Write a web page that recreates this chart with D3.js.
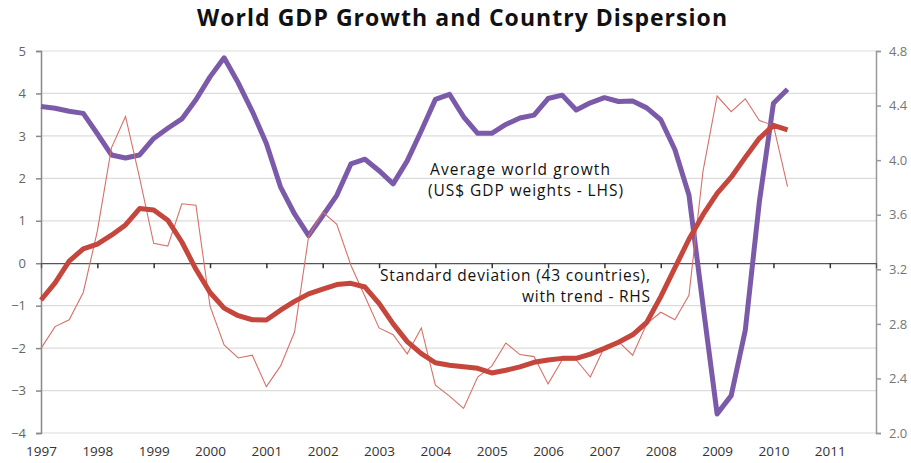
<!DOCTYPE html>
<html>
<head>
<meta charset="utf-8">
<script src="https://cdn.jsdelivr.net/npm/d3@7"></script>
<style>
  html, body { margin: 0; padding: 0; background: #fff; }
  text { font-family: "Open Sans", "DejaVu Sans", sans-serif; }
</style>
</head>
<body>
<div id="chart-wrap"></div>
<script>
const width = 911;
const height = 463;
const margin = {top: 51, bottom: 30, left: 41, right: 35};

// quarterly from 1997 Q1
const startYear = 1997;
const years = [1997, 1998, 1999, 2000, 2001, 2002, 2003, 2004, 2005, 2006, 2007, 2008, 2009, 2010, 2011];
const leftTicks = [-4, -3, -2, -1, 0, 1, 2, 3, 4, 5];
const rightTicks = [2.0, 2.4, 2.8, 3.2, 3.6, 4.0, 4.4, 4.8];

// Average world growth, US$ GDP weights (LHS)
const worldGrowth = [3.69, 3.65, 3.58, 3.53, 3.05, 2.55, 2.48, 2.55, 2.94, 3.18,
  3.40, 3.85, 4.39, 4.84, 4.25, 3.58, 2.82, 1.80, 1.16, 0.65,
  1.12, 1.60, 2.34, 2.45, 2.18, 1.87, 2.41, 3.12, 3.86, 3.98,
  3.45, 3.06, 3.06, 3.27, 3.42, 3.49, 3.88, 3.96, 3.61, 3.78,
  3.90, 3.81, 3.82, 3.66, 3.38, 2.68, 1.61, -1.00, -3.55, -3.12,
  -1.58, 1.45, 3.77, 4.10];

// Standard deviation across 43 countries (RHS)
const dispersion = [2.62, 2.78, 2.83, 3.03, 3.48, 4.09, 4.32, 3.87, 3.39, 3.37,
  3.68, 3.67, 2.93, 2.645, 2.55, 2.57, 2.34, 2.49, 2.74, 3.44,
  3.62, 3.53, 3.23, 3.00, 2.77, 2.72, 2.58, 2.77, 2.35, 2.27,
  2.18, 2.41, 2.49, 2.66, 2.575, 2.56, 2.36, 2.535, 2.535, 2.41,
  2.63, 2.67, 2.57, 2.80, 2.885, 2.83, 3.01, 3.92, 4.47, 4.355,
  4.45, 4.29, 4.255, 3.805];

// trend of the standard deviation (RHS)
const dispersionTrend = [2.975, 3.10, 3.26, 3.35, 3.385, 3.45, 3.525, 3.645, 3.635, 3.56,
  3.40, 3.20, 3.03, 2.915, 2.86, 2.83, 2.828, 2.90, 2.965, 3.02,
  3.055, 3.088, 3.097, 3.07, 2.95, 2.80, 2.67, 2.582, 2.515, 2.497,
  2.486, 2.474, 2.44, 2.46, 2.485, 2.518, 2.535, 2.547, 2.547, 2.578,
  2.62, 2.665, 2.72, 2.81, 3.00, 3.21, 3.42, 3.60, 3.757, 3.875,
  4.02, 4.16, 4.255, 4.221];

const svg = d3.select("#chart-wrap")
  .append("svg")
  .attr("width", width)
  .attr("height", height);

const x = d3.scaleLinear()
  .domain([1997, 2011.82])
  .range([margin.left, width - margin.right]);

const yL = d3.scaleLinear()
  .domain([-4, 5])
  .range([height - margin.bottom, margin.top]);

const yR = d3.scaleLinear()
  .domain([2.0, 4.8])
  .range([height - margin.bottom, margin.top]);

const t = i => startYear + i / 4;

// title
svg.append("text")
  .attr("x", 462)
  .attr("y", 26)
  .attr("text-anchor", "middle")
  .attr("font-size", 23)
  .attr("font-weight", "bold")
  .attr("fill", "#111")
  .attr("textLength", 530)
  .attr("lengthAdjust", "spacing")
  .text("World GDP Growth and Country Dispersion");

// gridlines
svg.append("g")
  .selectAll("line")
  .data(leftTicks.filter(d => d !== 0))
  .join("line")
  .attr("x1", margin.left)
  .attr("x2", width - margin.right)
  .attr("y1", d => yL(d))
  .attr("y2", d => yL(d))
  .attr("stroke", "#dcdcdc")
  .attr("stroke-width", 1.2);

// left axis
const leftAxis = svg.append("g")
  .attr("transform", "translate(" + margin.left + ",0)")
  .call(d3.axisLeft(yL).tickValues(leftTicks).tickSize(5).tickPadding(10).tickFormat(d3.format("d")));
leftAxis.select(".domain").attr("stroke", "#888").attr("stroke-width", 1.5);
leftAxis.selectAll(".tick line").attr("stroke", "#888").attr("stroke-width", 1.5);
leftAxis.selectAll("text")
  .attr("font-size", 13)
  .attr("fill", "#666")
  .style("font-family", "'Open Sans', sans-serif");

// right axis
const rightAxis = svg.append("g")
  .attr("transform", "translate(" + (width - margin.right) + ",0)")
  .call(d3.axisRight(yR).tickValues(rightTicks).tickSize(5).tickPadding(8).tickFormat(d3.format(".1f")));
rightAxis.select(".domain").attr("stroke", "#999").attr("stroke-width", 1.5);
rightAxis.selectAll(".tick line").attr("stroke", "#999").attr("stroke-width", 1.5);
rightAxis.selectAll("text")
  .attr("font-size", 13)
  .attr("fill", "#777")
  .style("font-family", "'Open Sans', sans-serif");

// x axis sits on the zero line, labels below the plot
const xAxis = svg.append("g")
  .attr("transform", "translate(0," + yL(0) + ")")
  .call(d3.axisBottom(x).tickValues(years).tickSize(5).tickFormat(d3.format("d")));
xAxis.select(".domain").attr("stroke", "#555").attr("stroke-width", 1.3);
xAxis.selectAll(".tick line").attr("stroke", "#333").attr("stroke-width", 1.5)
  .attr("display", d => d === 1997 ? "none" : null);
xAxis.selectAll("text")
  .attr("font-size", 13.5)
  .attr("fill", "#333")
  .attr("y", yL(-4) - yL(0) + 13)
  .style("font-family", "'Open Sans', sans-serif");

// lines
const lineL = d3.line()
  .x((d, i) => x(t(i)))
  .y(d => yL(d));

const lineR = d3.line()
  .x((d, i) => x(t(i)))
  .y(d => yR(d));

svg.append("path")
  .datum(worldGrowth)
  .attr("fill", "none")
  .attr("stroke", "#7b5ba9")
  .attr("stroke-width", 5)
  .attr("stroke-linejoin", "round")
  .attr("d", lineL);

svg.append("path")
  .datum(dispersion)
  .attr("fill", "none")
  .attr("stroke", "#d7706a")
  .attr("stroke-width", 1.1)
  .attr("d", lineR);

svg.append("path")
  .datum(dispersionTrend)
  .attr("fill", "none")
  .attr("stroke", "#c4463c")
  .attr("stroke-width", 5)
  .attr("stroke-linejoin", "round")
  .attr("d", lineR);

// annotations
const note = svg.append("g")
  .attr("font-size", 15.5)
  .attr("fill", "#111");

note.append("text").attr("x", 430).attr("y", 175)
  .attr("textLength", 180).attr("lengthAdjust", "spacing")
  .text("Average world growth");
note.append("text").attr("x", 428).attr("y", 196)
  .attr("textLength", 195).attr("lengthAdjust", "spacing")
  .text("(US$ GDP weights - LHS)");
note.append("text").attr("x", 380).attr("y", 281)
  .attr("textLength", 270).attr("lengthAdjust", "spacing")
  .text("Standard deviation (43 countries),");
note.append("text").attr("x", 522).attr("y", 302)
  .attr("textLength", 128).attr("lengthAdjust", "spacing")
  .text("with trend - RHS");
</script>
</body>
</html>
